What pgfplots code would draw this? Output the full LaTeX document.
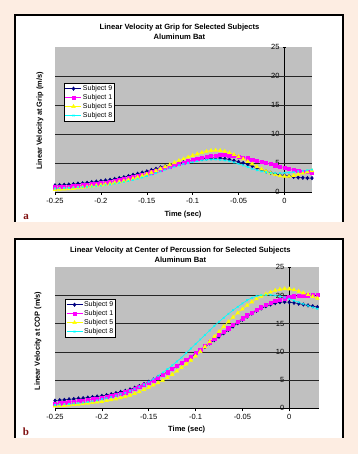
\documentclass[border=0pt]{standalone}
\usepackage{pgfplots}
\pgfplotsset{compat=1.18}
\usepackage{pgfplotstable}
\usepackage{fontspec}
\setmainfont{Liberation Sans}
\newfontfamily\letterfont{Liberation Serif}
\definecolor{peach}{RGB}{253,237,226}
\definecolor{plotgray}{RGB}{192,192,192}
\definecolor{navy9}{RGB}{0,0,128}
\definecolor{mag1}{RGB}{255,0,255}
\definecolor{yel5}{RGB}{255,255,0}
\definecolor{cyan8}{RGB}{0,255,255}
\definecolor{letterred}{RGB}{128,16,16}

\pgfplotstableread{
t s9 s1 s5 s8
-0.250 1.15 0.80 0.40 0.60
-0.245 1.20 0.85 0.45 0.62
-0.240 1.25 0.90 0.50 0.65
-0.235 1.30 0.95 0.55 0.70
-0.230 1.35 1.00 0.60 0.75
-0.225 1.45 1.05 0.70 0.80
-0.220 1.50 1.15 0.80 0.85
-0.215 1.60 1.25 0.90 0.90
-0.210 1.70 1.35 1.00 0.95
-0.205 1.80 1.45 1.10 1.05
-0.200 1.90 1.55 1.20 1.10
-0.195 2.00 1.65 1.30 1.20
-0.190 2.10 1.75 1.45 1.30
-0.185 2.25 1.90 1.60 1.45
-0.180 2.40 2.05 1.75 1.60
-0.175 2.55 2.20 1.90 1.75
-0.170 2.75 2.35 2.10 1.90
-0.165 2.95 2.55 2.30 2.10
-0.160 3.15 2.75 2.55 2.30
-0.155 3.35 2.95 2.80 2.50
-0.150 3.55 3.15 3.05 2.75
-0.145 3.80 3.40 3.35 3.00
-0.140 4.00 3.65 3.65 3.25
-0.135 4.25 3.90 4.00 3.55
-0.130 4.45 4.15 4.35 3.85
-0.125 4.65 4.40 4.70 4.10
-0.120 4.85 4.65 5.05 4.35
-0.115 5.00 4.90 5.40 4.60
-0.110 5.15 5.10 5.70 4.80
-0.105 5.30 5.30 6.00 5.00
-0.100 5.45 5.50 6.30 5.15
-0.095 5.60 5.70 6.55 5.30
-0.090 5.70 5.90 6.80 5.45
-0.085 5.80 6.05 7.00 5.55
-0.080 5.85 6.20 7.15 5.60
-0.075 5.90 6.30 7.20 5.60
-0.070 5.85 6.35 7.15 5.55
-0.065 5.75 6.35 7.00 5.45
-0.060 5.60 6.30 6.75 5.30
-0.055 5.40 6.20 6.45 5.10
-0.050 5.20 6.10 6.10 4.85
-0.045 5.00 5.95 5.70 4.60
-0.040 4.75 5.80 5.25 4.30
-0.035 4.45 5.60 4.80 4.00
-0.030 4.15 5.40 4.35 3.75
-0.025 3.85 5.20 3.95 3.55
-0.020 3.55 5.00 3.55 3.40
-0.015 3.30 4.80 3.25 3.30
-0.010 3.10 4.60 3.00 3.25
-0.005 2.95 4.40 2.80 3.25
0.000 2.85 4.20 2.70 3.30
0.005 2.75 4.00 2.70 3.35
0.010 2.60 3.85 2.85 3.45
0.015 2.50 3.70 3.05 3.55
0.020 2.45 3.55 3.25 3.65
0.025 2.40 3.45 3.45 3.75
0.030 2.40 3.35 3.65 3.85
}\griptable

\pgfplotstableread{
t s9 s1 s5 s8
-0.250 1.35 0.80 0.40 0.60
-0.245 1.45 0.90 0.45 0.65
-0.240 1.50 1.00 0.50 0.70
-0.235 1.60 1.10 0.55 0.75
-0.230 1.65 1.20 0.65 0.85
-0.225 1.75 1.30 0.70 0.90
-0.220 1.80 1.40 0.80 1.00
-0.215 1.90 1.50 0.90 1.10
-0.210 2.00 1.60 1.00 1.25
-0.205 2.10 1.70 1.10 1.40
-0.200 2.20 1.85 1.20 1.60
-0.195 2.35 2.00 1.35 1.80
-0.190 2.50 2.20 1.50 2.00
-0.185 2.70 2.40 1.65 2.25
-0.180 2.90 2.60 1.85 2.50
-0.175 3.10 2.85 2.05 2.75
-0.170 3.35 3.10 2.30 3.05
-0.165 3.65 3.40 2.60 3.40
-0.160 3.95 3.75 2.90 3.80
-0.155 4.30 4.10 3.30 4.20
-0.150 4.70 4.50 3.70 4.70
-0.145 5.10 4.95 4.10 5.20
-0.140 5.55 5.40 4.50 5.75
-0.135 6.00 5.90 4.95 6.35
-0.130 6.45 6.40 5.45 6.95
-0.125 6.95 6.95 6.00 7.60
-0.120 7.45 7.50 6.60 8.30
-0.115 7.95 8.05 7.20 9.00
-0.110 8.50 8.60 7.85 9.80
-0.105 9.10 9.20 8.50 10.60
-0.100 9.70 9.80 9.25 11.40
-0.095 10.30 10.40 10.05 12.20
-0.090 10.90 11.05 10.90 13.00
-0.085 11.50 11.70 11.80 13.80
-0.080 12.10 12.35 12.70 14.60
-0.075 12.70 13.00 13.60 15.35
-0.070 13.30 13.60 14.50 16.05
-0.065 13.90 14.20 15.35 16.75
-0.060 14.50 14.80 16.15 17.40
-0.055 15.10 15.40 16.90 18.00
-0.050 15.70 15.95 17.60 18.60
-0.045 16.25 16.50 18.25 19.15
-0.040 16.80 17.00 18.85 19.60
-0.035 17.30 17.45 19.40 19.90
-0.030 17.70 17.90 19.85 20.05
-0.025 18.10 18.30 20.25 20.10
-0.020 18.40 18.70 20.60 20.10
-0.015 18.65 19.00 20.90 20.00
-0.010 18.80 19.30 21.10 19.85
-0.005 18.85 19.50 21.20 19.65
0.000 18.80 19.70 21.15 19.40
0.005 18.70 19.85 21.00 19.10
0.010 18.55 19.95 20.75 18.80
0.015 18.40 20.00 20.45 18.50
0.020 18.25 20.05 20.15 18.20
0.025 18.10 20.10 19.80 17.90
0.030 17.95 20.10 19.50 17.65
}\coptable

\pgfplotsset{
  panel/.style={
    scale only axis,
    clip=false,
    axis background/.style={fill=plotgray},
    axis x line=bottom, axis y line=middle,
    axis line style={-, black, line width=0.6pt},
    hide obscured x ticks=false, hide obscured y ticks=false,
    ymin=0, ymax=25, xmin=-0.25,
    xtick={-0.25,-0.2,-0.15,-0.1,-0.05,0},
    xticklabels={-0.25,-0.2,-0.15,-0.1,-0.05,0},
    ytick={0,5,10,15,20,25},
    yticklabels={0,5,10,15,20,25},
    extra y ticks={5,10,15,20},
    extra y tick labels={},
    extra y tick style={ymajorgrids=true, major tick length=0pt},
    major grid style={black!85, line width=0.6pt},
    tick style={black, line width=0.5pt},
    major tick length=3pt,
    tick align=center,
    x tick style={yshift=-1.5pt},
    ticklabel style={font=\fontsize{7.5}{8}\selectfont},
    xticklabel style={yshift=-1pt},
    legend cell align=left,
    legend style={draw=black, line width=0.4pt, fill=white, inner sep=1pt,
      font=\fontsize{7}{7.5}\selectfont, row sep=0pt,
      nodes={inner sep=1.2pt}},
    legend image code/.code={\draw[mark repeat=2,mark phase=2,##1] plot coordinates {(0pt,0pt) (8pt,0pt) (16pt,0pt)};},
  },
  s9/.style={navy9, line width=0.6pt, mark=diamond*, mark size=1.7pt, mark options={fill=navy9, draw=navy9}},
  s1/.style={mag1, line width=0.6pt, mark=square*, mark size=1.6pt, mark options={fill=mag1, draw=mag1}},
  s5/.style={yel5, line width=0.6pt, mark=triangle*, mark size=2pt, mark options={fill=yel5, draw=yel5}},
  s8/.style={cyan8, line width=0.6pt, mark=x, mark size=1.2pt, mark options={draw=cyan8}},
}

\begin{document}
\begin{tikzpicture}
\path[use as bounding box] (0pt,0pt) rectangle (358pt,454pt);
\fill[peach] (0pt,0pt) rectangle (358pt,454pt);
% panel a frame
\fill[white] (15pt,232pt) rectangle (343pt,439pt);
\draw[black, line width=1.2pt] (15pt,232pt) -- (15pt,439pt) -- (343pt,439pt) -- (343pt,232pt);
% panel b frame
\fill[white] (15pt,16pt) rectangle (343pt,215pt);
\draw[black, line width=1.2pt] (15pt,16pt) -- (15pt,215pt) -- (343pt,215pt) -- (343pt,16pt);

% ---------- panel a ----------
\begin{axis}[panel, at={(55pt,262pt)}, anchor=south west,
  width=257pt, height=145pt, xmax=0.03,
  legend style={at={(0.035,0.752)}, anchor=north west}]
\addplot[s9] table[x=t,y=s9] {\griptable};
\addlegendentry{Subject 9}
\addplot[s1] table[x=t,y=s1] {\griptable};
\addlegendentry{Subject 1}
\addplot[s5] table[x=t,y=s5] {\griptable};
\addlegendentry{Subject 5}
\addplot[s8] table[x=t,y=s8] {\griptable};
\addlegendentry{Subject 8}
\end{axis}
\node[font=\bfseries\fontsize{7.6}{10}\selectfont, align=center] at (179.5pt,422pt) {Linear Velocity at Grip for Selected Subjects\\Aluminum Bat};
\node[font=\bfseries\fontsize{7.4}{8}\selectfont, rotate=90] at (40pt,333pt) {Linear Velocity at Grip (m/s)};
\node[font=\bfseries\fontsize{7.5}{8}\selectfont] at (183pt,239pt) {Time (sec)};
\node[font=\letterfont\bfseries\fontsize{11}{12}\selectfont, text=letterred] at (26pt,237pt) {a};

% ---------- panel b ----------
\begin{axis}[panel, at={(55pt,45.7pt)}, anchor=south west,
  width=264pt, height=141pt, xmax=0.0317,
  legend style={at={(0.038,0.775)}, anchor=north west}]
\addplot[s9] table[x=t,y=s9] {\coptable};
\addlegendentry{Subject 9}
\addplot[s1] table[x=t,y=s1] {\coptable};
\addlegendentry{Subject 1}
\addplot[s5] table[x=t,y=s5] {\coptable};
\addlegendentry{Subject 5}
\addplot[s8] table[x=t,y=s8] {\coptable};
\addlegendentry{Subject 8}
\end{axis}
\node[font=\bfseries\fontsize{7.6}{10}\selectfont, align=center] at (180.3pt,199.5pt) {Linear Velocity at Center of Percussion for Selected Subjects\\Aluminum Bat};
\node[font=\bfseries\fontsize{7.4}{8}\selectfont, rotate=90] at (38pt,113pt) {Linear Velocity at COP (m/s)};
\node[font=\bfseries\fontsize{7.5}{8}\selectfont] at (186.7pt,24pt) {Time (sec)};
\node[font=\letterfont\bfseries\fontsize{11}{12}\selectfont, text=letterred] at (26pt,22.3pt) {b};
\end{tikzpicture}
\end{document}
